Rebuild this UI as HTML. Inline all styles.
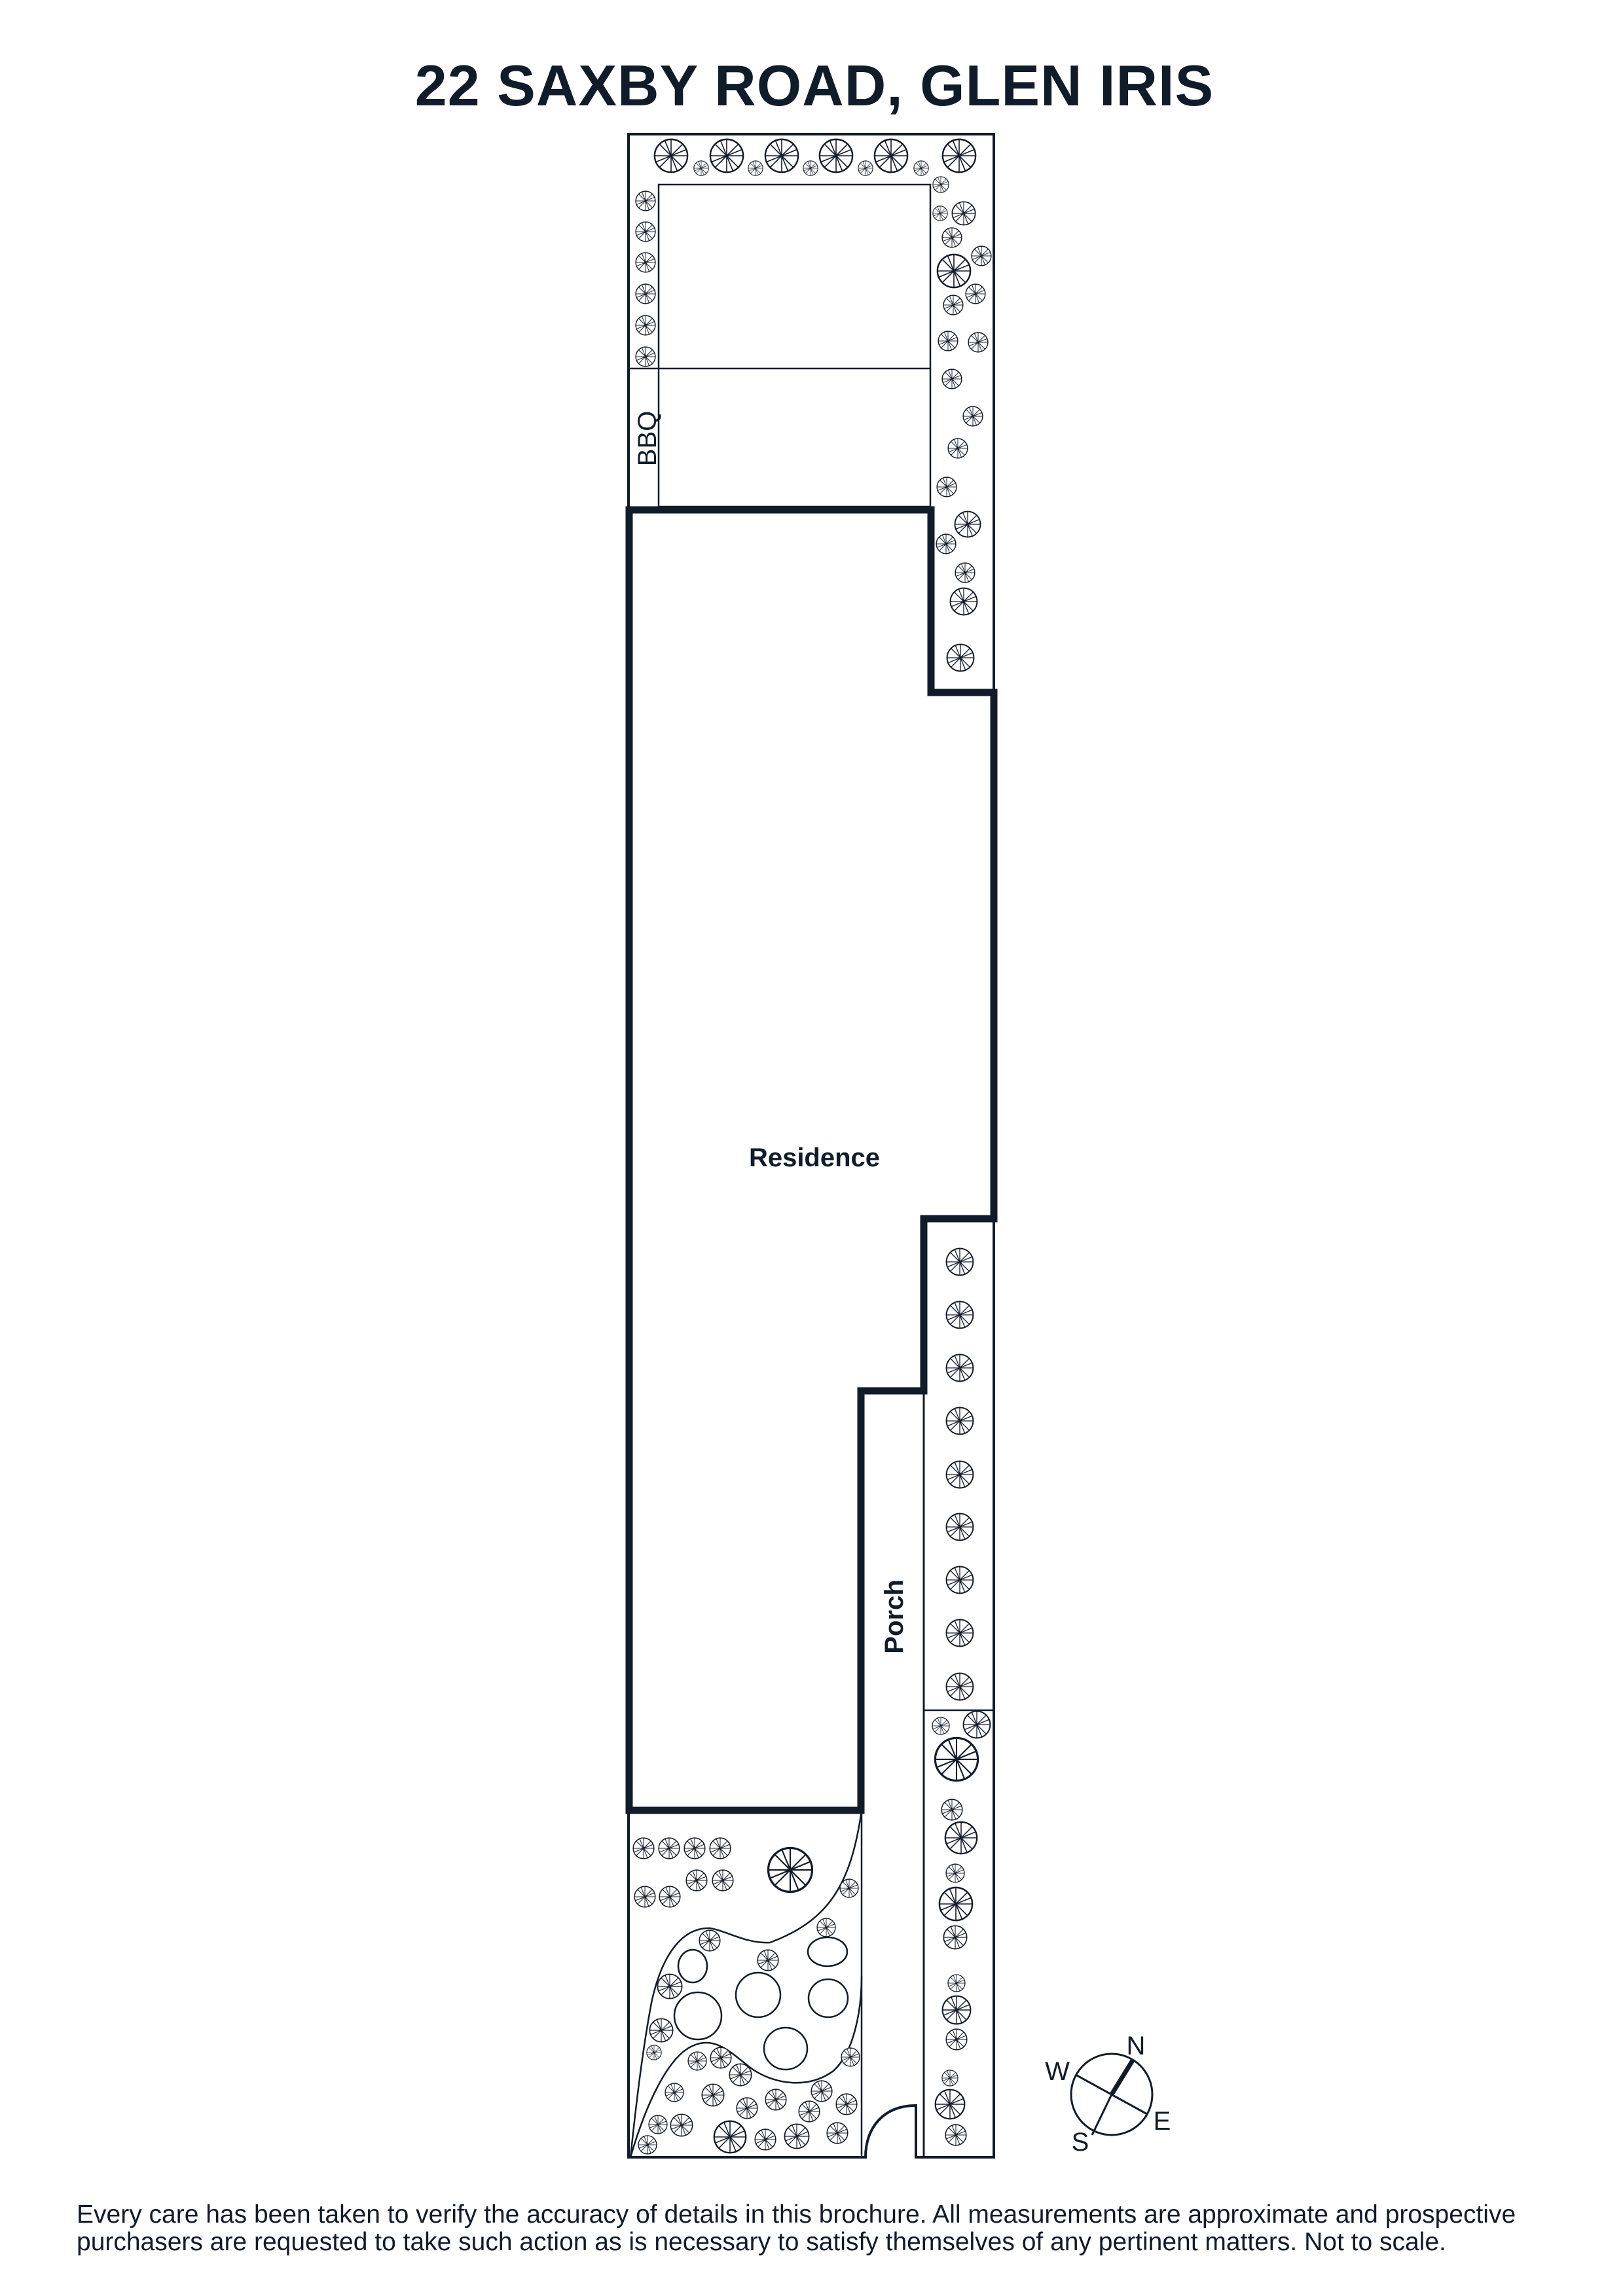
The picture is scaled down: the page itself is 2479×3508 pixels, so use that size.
<!DOCTYPE html>
<html><head><meta charset="utf-8"><style>
html,body{margin:0;padding:0;background:#fff}
svg{display:block}
</style></head><body>
<svg width="2479" height="3508" viewBox="0 0 2479 3508" xmlns="http://www.w3.org/2000/svg">
<defs>
<symbol id="t" viewBox="-10 -10 20 20" overflow="visible">
<circle r="9.3" fill="#fff" stroke="#111c2a" stroke-width="0.9"/>
<g stroke="#111c2a" stroke-width="0.6">
<line x1="0" y1="0" x2="9" y2="0"/><line x1="0" y1="0" x2="-9" y2="0"/>
<line x1="0" y1="0" x2="0" y2="9"/><line x1="0" y1="0" x2="0" y2="-9"/>
<line x1="0" y1="0" x2="6.4" y2="6.4"/><line x1="0" y1="0" x2="-6.4" y2="6.4"/>
<line x1="0" y1="0" x2="6.4" y2="-6.4"/><line x1="0" y1="0" x2="-6.4" y2="-6.4"/>
<line x1="0" y1="0" x2="3.4" y2="8.3"/><line x1="0" y1="0" x2="-8.3" y2="3.4"/>
<line x1="0" y1="0" x2="8.3" y2="-3.4"/><line x1="0" y1="0" x2="-3.4" y2="-8.3"/>
</g>
</symbol>
</defs>
<rect width="2479" height="3508" fill="#fff"/>
<text x="1244" y="161" text-anchor="middle" font-family="Liberation Sans, sans-serif" font-weight="bold" font-size="88" letter-spacing="1" fill="#111c2a">22 SAXBY ROAD, GLEN IRIS</text>

<g fill="none" stroke="#111c2a">
<path d="M960,779 L960,205 L1518,205 L1518,1058" stroke-width="4"/>
<rect x="1006" y="282" width="415" height="492" stroke-width="2.5"/>
<line x1="960" y1="563" x2="1421" y2="563" stroke-width="2.5"/>
<path d="M961,779 L1422,779 L1422,1058 L1518,1058 L1518,1862 L1411,1862 L1411,2125 L1315,2125 L1315,2766 L961,2766 Z" stroke-width="11" stroke-linejoin="miter"/>
<line x1="960" y1="2766" x2="960" y2="3296" stroke-width="4"/>
<line x1="1316" y1="2766" x2="1316" y2="3296" stroke-width="2.5"/>
<line x1="1411" y1="2125" x2="1411" y2="3296" stroke-width="3"/>
<line x1="1518" y1="1862" x2="1518" y2="3296" stroke-width="4"/>
<line x1="1411" y1="2613" x2="1518" y2="2613" stroke-width="2.5"/>
<path d="M958,3296 L1322,3296 C1322,3250 1350,3217 1399,3217 L1399,3296 L1520,3296" stroke-width="4"/>
<path d="M1316,2766 C1300,2880 1265,2935 1176,2968 C1140,2970 1110,2950 1084,2946 C1040,2945 1010,2990 995,3060 C980,3140 970,3230 963,3296" stroke-width="2.5"/>
<path d="M963,3296 C985,3220 1020,3140 1060,3125 C1095,3110 1120,3140 1150,3162 C1185,3185 1235,3192 1273,3164 C1305,3135 1316,3070 1316,3020" stroke-width="2.5"/>
<ellipse cx="1058" cy="3004" rx="22" ry="25" stroke-width="2.5"/>
<ellipse cx="1264" cy="2982" rx="30" ry="22" stroke-width="2.5"/>
<ellipse cx="1158" cy="3048" rx="34" ry="34" stroke-width="2.5"/>
<ellipse cx="1265" cy="3053" rx="30" ry="29" stroke-width="2.5"/>
<ellipse cx="1066" cy="3080" rx="36" ry="36" stroke-width="2.5"/>
<ellipse cx="1200" cy="3130" rx="33" ry="32" stroke-width="2.5"/>
<circle cx="1698" cy="3200" r="62" stroke-width="3"/>
<line x1="1668" y1="3262" x2="1698" y2="3200" stroke-width="3"/>
<line x1="1698" y1="3200" x2="1730" y2="3148" stroke-width="7"/>
<line x1="1643" y1="3170" x2="1752" y2="3230" stroke-width="3"/>
</g>
<g font-family="Liberation Sans, sans-serif" font-size="40" fill="#111c2a" text-anchor="middle">
<text x="1735" y="3139">N</text>
<text x="1615" y="3178">W</text>
<text x="1775" y="3254">E</text>
<text x="1650" y="3286">S</text>
</g>

<text x="1244" y="1782" text-anchor="middle" font-family="Liberation Sans, sans-serif" font-weight="bold" font-size="40" fill="#111c2a">Residence</text>
<text transform="translate(1379,2470) rotate(-90)" text-anchor="middle" font-family="Liberation Sans, sans-serif" font-weight="bold" font-size="40" fill="#111c2a">Porch</text>
<text transform="translate(1002,670) rotate(-90)" text-anchor="middle" font-family="Liberation Sans, sans-serif" font-size="40" fill="#111c2a">BBQ</text>

<g>
<use href="#t" x="998" y="211" width="54" height="54"/>
<use href="#t" x="1083" y="211" width="54" height="54"/>
<use href="#t" x="1167" y="211" width="54" height="54"/>
<use href="#t" x="1250" y="211" width="54" height="54"/>
<use href="#t" x="1334" y="211" width="54" height="54"/>
<use href="#t" x="1438" y="211" width="54" height="54"/>
<use href="#t" x="1059" y="245" width="24" height="24"/>
<use href="#t" x="1142" y="245" width="24" height="24"/>
<use href="#t" x="1226" y="245" width="24" height="24"/>
<use href="#t" x="1310" y="245" width="24" height="24"/>
<use href="#t" x="1395" y="245" width="24" height="24"/>
<use href="#t" x="970" y="291" width="32" height="32"/>
<use href="#t" x="970" y="338" width="32" height="32"/>
<use href="#t" x="970" y="385" width="32" height="32"/>
<use href="#t" x="970" y="433" width="32" height="32"/>
<use href="#t" x="970" y="481" width="32" height="32"/>
<use href="#t" x="970" y="529" width="32" height="32"/>
<use href="#t" x="1424" y="269" width="26" height="26"/>
<use href="#t" x="1424" y="314" width="24" height="24"/>
<use href="#t" x="1453" y="307" width="38" height="38"/>
<use href="#t" x="1438" y="347" width="32" height="32"/>
<use href="#t" x="1483" y="375" width="32" height="32"/>
<use href="#t" x="1430" y="387" width="54" height="54"/>
<use href="#t" x="1474" y="433" width="32" height="32"/>
<use href="#t" x="1440" y="450" width="32" height="32"/>
<use href="#t" x="1432" y="505" width="32" height="32"/>
<use href="#t" x="1478" y="507" width="32" height="32"/>
<use href="#t" x="1438" y="563" width="32" height="32"/>
<use href="#t" x="1470" y="620" width="32" height="32"/>
<use href="#t" x="1447" y="669" width="32" height="32"/>
<use href="#t" x="1430" y="728" width="32" height="32"/>
<use href="#t" x="1457" y="780" width="42" height="42"/>
<use href="#t" x="1429" y="815" width="32" height="32"/>
<use href="#t" x="1458" y="859" width="32" height="32"/>
<use href="#t" x="1450" y="897" width="44" height="44"/>
<use href="#t" x="1445" y="983" width="44" height="44"/>
<use href="#t" x="1444" y="1906" width="44" height="44"/>
<use href="#t" x="1444" y="1987" width="44" height="44"/>
<use href="#t" x="1444" y="2068" width="44" height="44"/>
<use href="#t" x="1444" y="2149" width="44" height="44"/>
<use href="#t" x="1444" y="2231" width="44" height="44"/>
<use href="#t" x="1444" y="2311" width="44" height="44"/>
<use href="#t" x="1444" y="2392" width="44" height="44"/>
<use href="#t" x="1444" y="2473" width="44" height="44"/>
<use href="#t" x="1444" y="2555" width="44" height="44"/>
<use href="#t" x="1423" y="2623" width="28" height="28"/>
<use href="#t" x="1470" y="2613" width="44" height="44"/>
<use href="#t" x="1426" y="2653" width="70" height="70"/>
<use href="#t" x="1437" y="2748" width="34" height="34"/>
<use href="#t" x="1442" y="2782" width="52" height="52"/>
<use href="#t" x="1444" y="2847" width="30" height="30"/>
<use href="#t" x="1433" y="2882" width="54" height="54"/>
<use href="#t" x="1440" y="2941" width="38" height="38"/>
<use href="#t" x="1447" y="3016" width="28" height="28"/>
<use href="#t" x="1438" y="3048" width="46" height="46"/>
<use href="#t" x="1444" y="3099" width="34" height="34"/>
<use href="#t" x="1438" y="3162" width="26" height="26"/>
<use href="#t" x="1427" y="3191" width="48" height="48"/>
<use href="#t" x="1443" y="3245" width="34" height="34"/>
<use href="#t" x="966" y="2807" width="34" height="34"/>
<use href="#t" x="1005" y="2807" width="34" height="34"/>
<use href="#t" x="1044" y="2807" width="34" height="34"/>
<use href="#t" x="1083" y="2807" width="34" height="34"/>
<use href="#t" x="1047" y="2856" width="34" height="34"/>
<use href="#t" x="1087" y="2856" width="34" height="34"/>
<use href="#t" x="968" y="2881" width="34" height="34"/>
<use href="#t" x="1006" y="2881" width="34" height="34"/>
<use href="#t" x="1171" y="2821" width="72" height="72"/>
<use href="#t" x="1282" y="2870" width="30" height="30"/>
<use href="#t" x="1247" y="2930" width="30" height="30"/>
<use href="#t" x="1067" y="2948" width="34" height="34"/>
<use href="#t" x="1156" y="2978" width="34" height="34"/>
<use href="#t" x="1003" y="3015" width="40" height="40"/>
<use href="#t" x="991" y="3083" width="38" height="38"/>
<use href="#t" x="987" y="3124" width="24" height="24"/>
<use href="#t" x="1284" y="3128" width="30" height="30"/>
<use href="#t" x="1050" y="3134" width="30" height="30"/>
<use href="#t" x="1084" y="3127" width="34" height="34"/>
<use href="#t" x="1113" y="3152" width="36" height="36"/>
<use href="#t" x="1015" y="3182" width="30" height="30"/>
<use href="#t" x="1071" y="3183" width="36" height="36"/>
<use href="#t" x="1124" y="3204" width="34" height="34"/>
<use href="#t" x="1168" y="3191" width="34" height="34"/>
<use href="#t" x="1238" y="3178" width="34" height="34"/>
<use href="#t" x="1219" y="3209" width="34" height="34"/>
<use href="#t" x="1276" y="3198" width="34" height="34"/>
<use href="#t" x="990" y="3231" width="30" height="30"/>
<use href="#t" x="1023" y="3229" width="36" height="36"/>
<use href="#t" x="974" y="3262" width="30" height="30"/>
<use href="#t" x="1089" y="3239" width="52" height="52"/>
<use href="#t" x="1152" y="3252" width="34" height="34"/>
<use href="#t" x="1197" y="3244" width="40" height="40"/>
<use href="#t" x="1262" y="3242" width="34" height="34"/>
</g>

<g font-family="Liberation Sans, sans-serif" font-size="39" fill="#111c2a">
<text x="117" y="3396">Every care has been taken to verify the accuracy of details in this brochure. All measurements are approximate and prospective</text>
<text x="117" y="3438">purchasers are requested to take such action as is necessary to satisfy themselves of any pertinent matters. Not to scale.</text>
</g>
</svg>
</body></html>
